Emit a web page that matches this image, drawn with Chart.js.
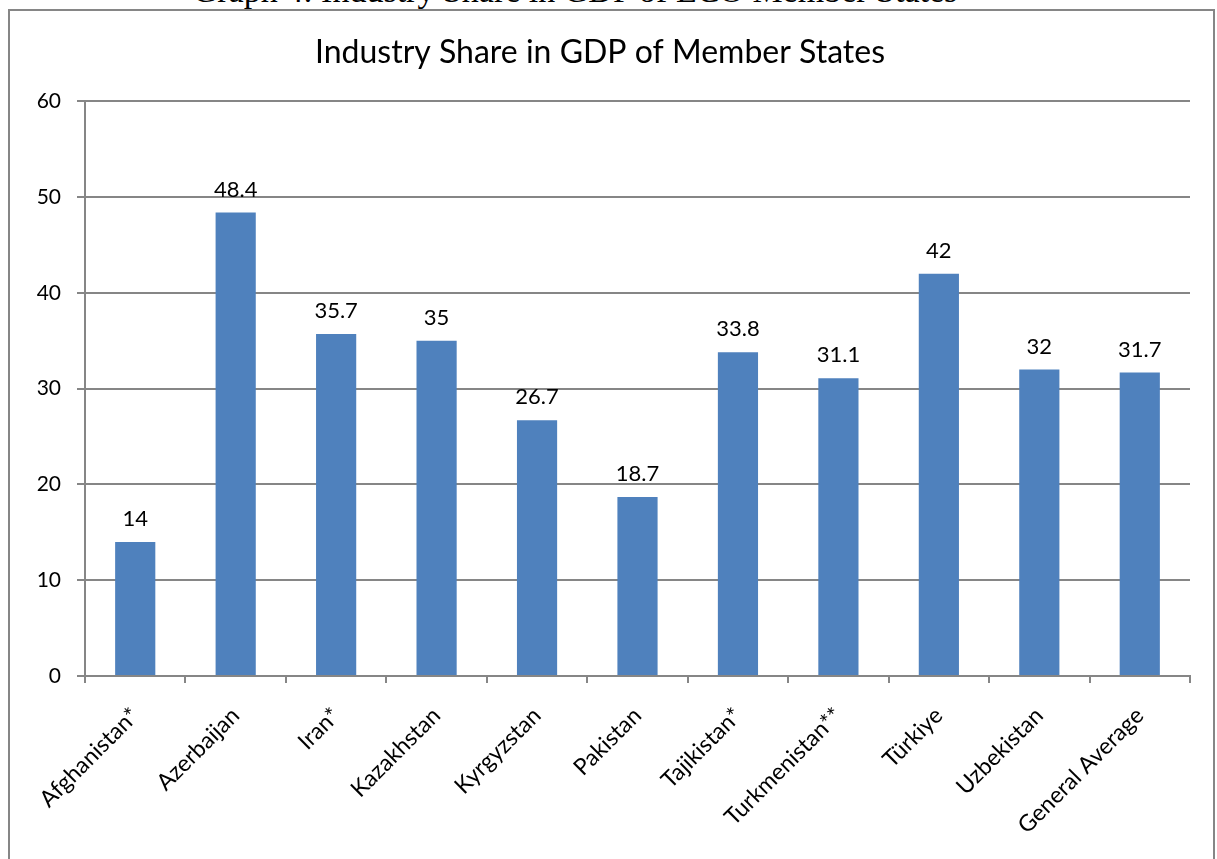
<!DOCTYPE html>
<html>
<head>
<meta charset="utf-8">
<script src="https://cdn.jsdelivr.net/npm/chart.js@4"></script>
<style>
  body { margin: 0; background: #fff; overflow: hidden; }
  #caption { position: absolute; left: 0; width: 1150px; top: -28px; text-align: center;
    font-family: "Liberation Serif", serif; font-size: 34px; color: #000; white-space: nowrap; }
  #frame { position: absolute; left: 8px; top: 9px; width: 1203px; height: 870px;
    border: 2px solid #868686; background: #fff; }
  #wrap { position: absolute; left: 0; top: 0; width: 1203px; height: 848px; }
</style>
</head>
<body>
<div id="caption">Graph 4: Industry Share in GDP of ECO Member States</div>
<div id="frame"><div id="wrap"><canvas id="chart"></canvas></div></div>
<script>
// values
const countries = ['Afghanistan*', 'Azerbaijan', 'Iran*', 'Kazakhstan', 'Kyrgyzstan', 'Pakistan',
  'Tajikistan*', 'Turkmenistan**', 'Türkiye', 'Uzbekistan', 'General Average'];
const industryShare = [14, 48.4, 35.7, 35, 26.7, 18.7, 33.8, 31.1, 42, 32, 31.7];
const yTicks = [0, 10, 20, 30, 40, 50, 60];

const fontFamily = 'Lato, "Open Sans", sans-serif';

// draw the value above each bar
const valueLabels = {
  id: 'valueLabels',
  afterDatasetsDraw(chart) {
    const ctx = chart.ctx;
    const meta = chart.getDatasetMeta(0);
    ctx.save();
    ctx.font = '22px ' + fontFamily;
    ctx.fillStyle = '#000';
    ctx.textAlign = 'center';
    ctx.textBaseline = 'bottom';
    meta.data.forEach((bar, i) => {
      ctx.fillText(String(chart.data.datasets[0].data[i]), bar.x, bar.y - 12);
    });
    ctx.restore();
  }
};

new Chart(document.getElementById('chart').getContext('2d'), {
  type: 'bar',
  data: {
    labels: countries,
    datasets: [{
      label: 'Industry share',
      data: industryShare,
      backgroundColor: '#4F81BD',
      barPercentage: 0.4,
      categoryPercentage: 1
    }]
  },
  options: {
    responsive: true,
    maintainAspectRatio: false,
    animation: false,
    layout: { padding: { top: 0, right: 23, bottom: 0, left: 0 } },
    plugins: {
      legend: { display: false },
      tooltip: { enabled: false },
      title: {
        display: true,
        text: 'Industry Share in GDP of Member States',
        color: '#000',
        font: { family: fontFamily, size: 32, weight: 'normal' },
        padding: { top: 22, bottom: 30 }
      }
    },
    scales: {
      x: {
        afterFit(scale) { scale.height = 183; },
        grid: { drawOnChartArea: false, drawTicks: true, tickLength: 7, color: '#868686', lineWidth: 2 },
        border: { color: '#868686', width: 2 },
        ticks: {
          color: '#000',
          font: { family: fontFamily, size: 23 },
          minRotation: 45,
          maxRotation: 45,
          autoSkip: false,
          padding: 19
        }
      },
      y: {
        min: 0,
        max: 60,
        afterFit(scale) { scale.width = 75; },
        afterBuildTicks(scale) { scale.ticks = yTicks.map(v => ({ value: v })); },
        grid: { color: '#868686', lineWidth: 2, tickLength: 8 },
        border: { color: '#868686', width: 2 },
        ticks: {
          color: '#000',
          font: { family: fontFamily, size: 21 },
          padding: 16
        }
      }
    }
  },
  plugins: [valueLabels]
});
</script>
</body>
</html>
